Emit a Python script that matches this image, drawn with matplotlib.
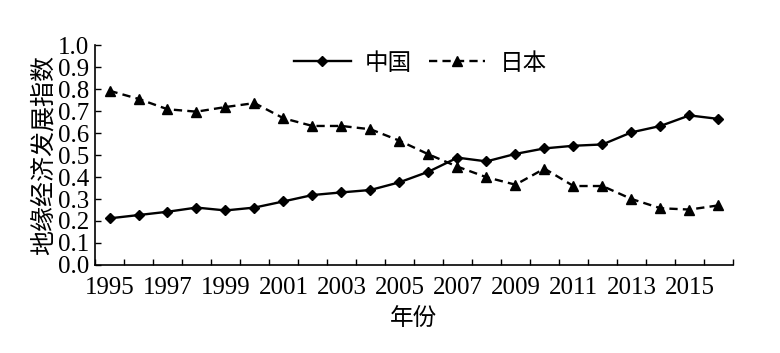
import matplotlib
matplotlib.use("Agg")
import matplotlib.pyplot as plt

plt.rcParams['font.family'] = ['Liberation Serif', 'Noto Sans CJK SC']

years = list(range(1995, 2017))
china = [0.212, 0.227, 0.242, 0.261, 0.248, 0.261, 0.289, 0.318, 0.330, 0.341, 0.376,
         0.424, 0.488, 0.471, 0.505, 0.530, 0.542, 0.548, 0.603, 0.632, 0.680, 0.664]
japan = [0.792, 0.755, 0.708, 0.697, 0.718, 0.736, 0.667, 0.632, 0.632, 0.617, 0.565,
         0.503, 0.447, 0.399, 0.365, 0.438, 0.359, 0.359, 0.300, 0.258, 0.252, 0.271]
xlabels = [str(y) for y in range(1995, 2017, 2)]
yticks = [i / 10 for i in range(11)]

fig = plt.figure(figsize=(7.8, 3.53), dpi=100)
ax = fig.add_axes([0.1218, 0.2493, 0.8179, 0.6232])

ax.plot(years, china, color='black', lw=1.7, marker='D', ms=5, label='中国')
ax.plot(years, japan, color='black', lw=1.7, ls=(0, (3.5, 2.2)), marker='^', ms=6.5,
        label='日本')

ax.set_xlim(1994.5, 2016.5)
ax.set_ylim(0, 1.0)
# ticks sit between the years, labels on every other year
ax.set_xticks([y - 0.5 for y in years] + [2016.5])
ax.set_xticklabels([])
ax.set_xticks([int(s) for s in xlabels], minor=True)
ax.set_xticklabels(xlabels, minor=True, fontsize=18)
ax.tick_params(axis='x', which='minor', length=0, pad=9)
ax.tick_params(axis='x', which='major', direction='in', length=4, width=1)
ax.set_yticks(yticks)
ax.set_yticklabels([f"{v:.1f}" for v in yticks], fontsize=18)
ax.tick_params(axis='y', direction='in', length=4, width=1, pad=4)

for s in ['top', 'right']:
    ax.spines[s].set_visible(False)
for s in ['left', 'bottom']:
    ax.spines[s].set_linewidth(1.2)

ax.set_ylabel('地缘经济发展指数', fontsize=18, labelpad=2)
ax.set_xlabel('年份', fontsize=17, labelpad=6)

ax.legend(loc='upper center', bbox_to_anchor=(0.51, 1.06), ncol=2, frameon=False,
          fontsize=17, handlelength=2.4, columnspacing=0.7, handletextpad=0.6)

fig.savefig('out.png', dpi=100)
